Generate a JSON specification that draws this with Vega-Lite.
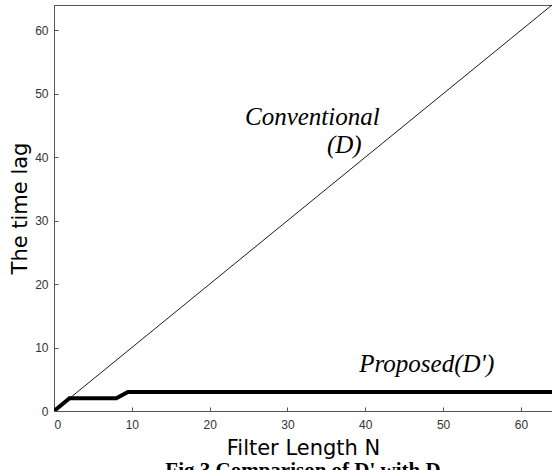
{
  "$schema": "https://vega.github.io/schema/vega-lite/v6.json",
  "width": 498,
  "height": 406,
  "autosize": {"type": "none"},
  "padding": {"left": 54, "top": 5, "right": 0, "bottom": 59},
  "background": "white",
  "config": {
    "view": {"stroke": "#555555", "strokeWidth": 1},
    "axis": {
      "domainColor": "#555555",
      "tickColor": "#555555",
      "grid": false,
      "labelFont": "Liberation Sans",
      "labelFontSize": 12,
      "labelColor": "#333333",
      "titleFont": "DejaVu Sans",
      "titleFontSize": 21,
      "titleFontWeight": "normal",
      "titleColor": "#000000"
    }
  },
  "title": {
    "text": "Fig.3 Comparison of D' with D",
    "orient": "bottom",
    "anchor": "middle",
    "font": "Liberation Serif",
    "fontSize": 21,
    "fontWeight": "bold",
    "offset": 2,
    "color": "#000000"
  },
  "datasets": {
    "conv": [{"n": 0, "lag": 0}, {"n": 64, "lag": 64}],
    "prop": [
      {"n": 0, "lag": 0},
      {"n": 2, "lag": 2},
      {"n": 8, "lag": 2},
      {"n": 9.5, "lag": 3},
      {"n": 64, "lag": 3}
    ],
    "labels": [
      {"n": 33.2, "lag": 46.4, "txt": "Conventional"},
      {"n": 37.3, "lag": 42.0, "txt": "(D)"},
      {"n": 47.9, "lag": 7.4, "txt": "Proposed(D')"}
    ]
  },
  "layer": [
    {
      "data": {"name": "conv"},
      "mark": {"type": "line", "color": "#000000", "strokeWidth": 0.9, "clip": true},
      "encoding": {
        "x": {
          "field": "n", "type": "quantitative",
          "scale": {"domain": [0, 64], "nice": false},
          "axis": {"values": [0, 10, 20, 30, 40, 50, 60], "tickSize": -4, "labelPadding": 12, "title": "Filter Length N", "titlePadding": 7}
        },
        "y": {
          "field": "lag", "type": "quantitative",
          "scale": {"domain": [0, 64], "nice": false},
          "axis": {"values": [0, 10, 20, 30, 40, 50, 60], "tickSize": -4, "labelPadding": 10, "title": "The time lag", "titlePadding": 4}
        }
      }
    },
    {
      "data": {"name": "prop"},
      "mark": {"type": "line", "color": "#000000", "strokeWidth": 4, "clip": true},
      "encoding": {
        "x": {"field": "n", "type": "quantitative"},
        "y": {"field": "lag", "type": "quantitative"}
      }
    },
    {
      "data": {"name": "labels"},
      "mark": {"type": "text", "font": "Liberation Serif", "fontStyle": "italic", "fontSize": 25, "color": "#000000", "align": "center", "baseline": "middle"},
      "encoding": {
        "x": {"field": "n", "type": "quantitative"},
        "y": {"field": "lag", "type": "quantitative"},
        "text": {"field": "txt"}
      }
    }
  ]
}
